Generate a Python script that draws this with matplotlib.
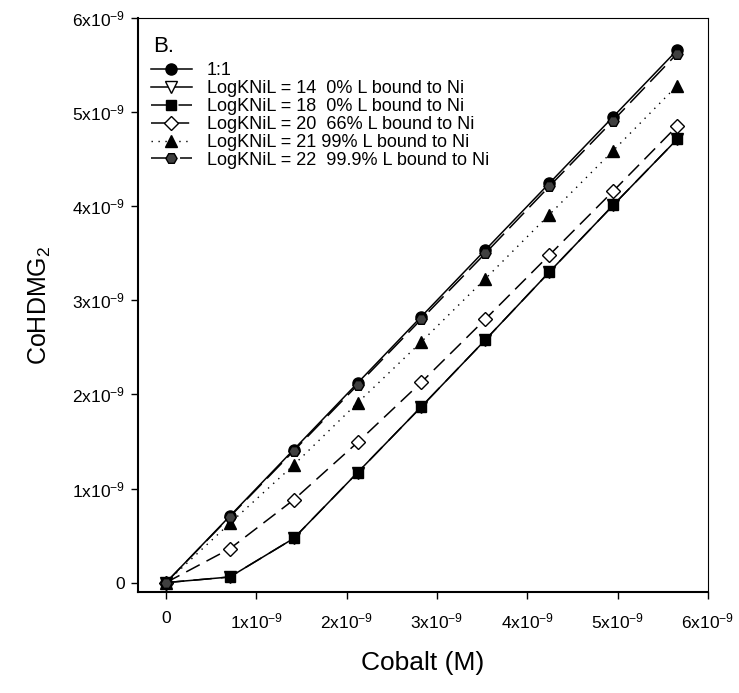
import matplotlib.pyplot as plt

plt.rcParams['font.family'] = ['Liberation Sans', 'DejaVu Sans']
plt.rcParams['mathtext.default'] = 'regular'

# cobalt added (x 1e-9 M)
cobalt = [0, 0.707, 1.414, 2.121, 2.828, 3.536, 4.243, 4.950, 5.657]

one_to_one = [0, 0.707, 1.414, 2.121, 2.828, 3.536, 4.243, 4.950, 5.657]
logk14 = [0, 0.06, 0.47, 1.17, 1.87, 2.58, 3.30, 4.01, 4.71]
logk18 = [0, 0.06, 0.47, 1.17, 1.87, 2.58, 3.30, 4.01, 4.71]
logk20 = [0, 0.36, 0.88, 1.49, 2.13, 2.80, 3.48, 4.16, 4.85]
logk21 = [0, 0.63, 1.25, 1.91, 2.56, 3.23, 3.91, 4.59, 5.28]
logk22 = [0, 0.70, 1.40, 2.10, 2.80, 3.50, 4.21, 4.91, 5.62]

labels = ['1:1',
          'LogKNiL = 14  0% L bound to Ni',
          'LogKNiL = 18  0% L bound to Ni',
          'LogKNiL = 20  66% L bound to Ni',
          'LogKNiL = 21 99% L bound to Ni',
          'LogKNiL = 22  99.9% L bound to Ni']

e = 1e-9
x = [v * e for v in cobalt]

fig = plt.figure(figsize=(7.39, 6.93), dpi=100)
ax = fig.add_axes([0.1867, 0.1457, 0.7713, 0.8283])

ms = 8
ax.plot(x, [v * e for v in one_to_one], '-', color='k', lw=1.1,
        marker='o', ms=ms, mfc='k', mec='k', label=labels[0], zorder=3)
ax.plot(x, [v * e for v in logk14], '-', color='k', lw=1.1,
        marker='v', ms=ms, mfc='white', mec='k', label=labels[1], zorder=3)
ax.plot(x, [v * e for v in logk18], color='k', lw=1.1, dashes=(12, 6),
        marker='s', ms=7, mfc='k', mec='k', label=labels[2], zorder=4)
ax.plot(x, [v * e for v in logk20], color='k', lw=1.1, dashes=(10, 5),
        marker='D', ms=7, mfc='white', mec='k', label=labels[3], zorder=4)
ax.plot(x, [v * e for v in logk21], color='k', lw=1.0, dashes=(1, 4),
        marker='^', ms=ms, mfc='k', mec='k', label=labels[4], zorder=4)
ax.plot(x, [v * e for v in logk22], color='k', lw=1.1, dashes=(14, 5),
        marker='H', ms=ms, mfc='0.25', mec='k', label=labels[5], zorder=5)

ax.set_xlim(-0.31e-9, 6e-9)
ax.set_ylim(-0.1e-9, 6e-9)

ticks = [i * e for i in range(7)]
ticklabels = ['0'] + ['%dx10$^{-9}$' % i for i in range(1, 7)]
ax.set_xticks(ticks)
ax.set_xticklabels(ticklabels, fontsize=12.5)
ax.set_yticks(ticks)
ax.set_yticklabels(ticklabels, fontsize=12.5)
ax.tick_params(direction='out', length=5, width=1, top=False, right=False)
ax.tick_params(axis='x', pad=9)
ax.tick_params(axis='y', pad=4)

for s in ['left', 'bottom']:
    ax.spines[s].set_linewidth(1.5)
for s in ['top', 'right']:
    ax.spines[s].set_linewidth(0.8)

ax.set_xlabel('Cobalt (M)', fontsize=19, labelpad=14)
ax.set_ylabel('CoHDMG$_2$', fontsize=18, labelpad=14)

ax.text(0.027, 0.95, 'B.', transform=ax.transAxes, fontsize=16, va='center')

ax.legend(loc='upper left', bbox_to_anchor=(0.0, 0.945), frameon=False,
          fontsize=13, handlelength=2.3, labelspacing=0.05,
          handletextpad=0.8, borderaxespad=0.3)

plt.savefig('out.png', dpi=100)
